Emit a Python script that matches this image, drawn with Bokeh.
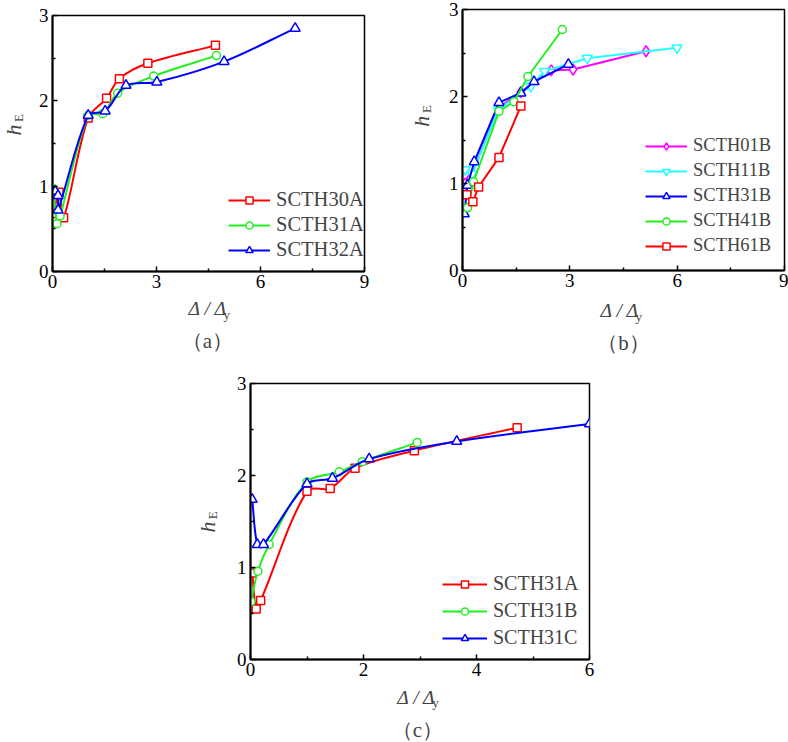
import numpy as np
from bokeh.plotting import figure
from bokeh.models import FixedTicker, Label, Legend, LegendItem, ColumnDataSource
from bokeh.layouts import row, column
from bokeh.embed import file_html
from bokeh.resources import INLINE

# ---- panel (a): SCTH30A / SCTH31A / SCTH32A ----
a30_x = [0.03, 0.19, 0.32, 1.03, 1.56, 1.93, 2.75, 4.70]
a30_y = [0.68, 0.93, 0.63, 1.80, 2.03, 2.26, 2.44, 2.65]
a31_x = [0.03, 0.13, 0.22, 1.03, 1.45, 1.88, 2.92, 4.73]
a31_y = [0.97, 0.56, 0.65, 1.83, 1.85, 2.09, 2.29, 2.53]
a32_x = [0.08, 0.16, 0.16, 1.03, 1.52, 2.12, 3.01, 4.95, 7.00]
a32_y = [0.94, 0.89, 0.72, 1.83, 1.88, 2.18, 2.22, 2.46, 2.85]

# ---- panel (b): SCTH01B ... SCTH61B ----
b01_x = [0.08, 0.22, 1.00, 1.63, 2.48, 3.09, 5.13]
b01_y = [1.00, 1.06, 1.87, 2.05, 2.30, 2.31, 2.52]
b11_x = [0.08, 0.27, 1.00, 1.91, 2.29, 3.49, 6.00]
b11_y = [1.16, 1.11, 1.85, 2.12, 2.29, 2.44, 2.56]
b31_x = [0.05, 0.14, 0.33, 1.02, 1.63, 2.00, 2.96]
b31_y = [0.65, 0.98, 1.25, 1.93, 2.04, 2.17, 2.37]
b41_x = [0.14, 0.31, 1.02, 1.44, 1.83, 2.79]
b41_y = [0.72, 1.02, 1.83, 1.94, 2.23, 2.77]
b61_x = [0.12, 0.29, 0.45, 1.02, 1.63]
b61_y = [0.87, 0.79, 0.96, 1.30, 1.89]

# ---- panel (c): SCTH31A / SCTH31B / SCTH31C ----
c31a_x = [0.03, 0.10, 0.18, 1.00, 1.41, 1.85, 2.90, 4.72]
c31a_y = [0.94, 0.55, 0.64, 1.83, 1.86, 2.08, 2.27, 2.52]
c31b_x = [0.01, 0.13, 0.33, 1.00, 1.57, 1.98, 2.95]
c31b_y = [0.63, 0.96, 1.25, 1.93, 2.04, 2.15, 2.36]
c31c_x = [0.03, 0.12, 0.23, 1.00, 1.45, 2.10, 3.65, 6.00]
c31c_y = [1.74, 1.25, 1.25, 1.91, 1.97, 2.18, 2.37, 2.56]

RED, GREEN, BLUE = "#FF0000", "#22EE22", "#0000FF"
MAGENTA, CYAN = "#FF00FF", "#22FFFF"
SERIF = "Liberation Serif"


def smooth_segments(xs, ys, sx, sy):
    """Chord-length Catmull-Rom curve through the points, as Bezier segments.
    sx, sy: pixels per data unit, so chords are measured on screen."""
    x = np.asarray(xs, float)
    y = np.asarray(ys, float)
    n = len(x)
    d = np.hypot(np.diff(x) * sx, np.diff(y) * sy)
    d = np.where(d < 1e-9, 1e-9, d)
    mx = np.empty(n)
    my = np.empty(n)
    mx[0], my[0] = (x[1] - x[0]) / d[0], (y[1] - y[0]) / d[0]
    mx[-1], my[-1] = (x[-1] - x[-2]) / d[-1], (y[-1] - y[-2]) / d[-1]
    for k in range(1, n - 1):
        mx[k] = (x[k + 1] - x[k - 1]) / (d[k - 1] + d[k])
        my[k] = (y[k + 1] - y[k - 1]) / (d[k - 1] + d[k])
    return dict(
        x0=x[:-1], y0=y[:-1], x1=x[1:], y1=y[1:],
        cx0=x[:-1] + mx[:-1] * d / 3.0, cy0=y[:-1] + my[:-1] * d / 3.0,
        cx1=x[1:] - mx[1:] * d / 3.0, cy1=y[1:] - my[1:] * d / 3.0,
    )


def make_panel(xmax, xticks, xminor, w, h, left, right, top, bottom):
    p = figure(width=w, height=h, x_range=(0, xmax), y_range=(0, 3),
               min_border_left=left, min_border_right=right,
               min_border_top=top, min_border_bottom=bottom,
               output_backend="svg", toolbar_location=None,
               background_fill_color="white", border_fill_color="white")
    p.grid.visible = False
    p.xaxis.ticker = FixedTicker(ticks=xticks, minor_ticks=xminor)
    p.yaxis.ticker = FixedTicker(ticks=[0, 1, 2, 3], minor_ticks=[0.5, 1.5, 2.5])
    for ax in (p.xaxis[0], p.yaxis[0]):
        ax.axis_line_width = 2
        ax.axis_line_color = "black"
        ax.major_tick_in = 5
        ax.major_tick_out = 0
        ax.minor_tick_in = 3
        ax.minor_tick_out = 0
        ax.major_tick_line_width = 1.5
        ax.minor_tick_line_width = 1.5
        ax.major_label_text_font = SERIF
        ax.major_label_text_font_size = "19px"
        ax.major_label_text_color = "black"
    p.xaxis.major_label_standoff = 3
    p.yaxis.major_label_standoff = 4
    p.outline_line_color = "black"
    p.outline_line_width = 1.5
    return p


def add_series(p, xs, ys, color, marker, size, scale=None):
    if scale is not None:
        src = ColumnDataSource(smooth_segments(xs, ys, *scale))
        r_line = p.bezier(source=src, x0="x0", y0="y0", x1="x1", y1="y1",
                          cx0="cx0", cy0="cy0", cx1="cx1", cy1="cy1",
                          line_color=color, line_width=2)
    else:
        r_line = p.line(xs, ys, line_color=color, line_width=2)
    r_pts = p.scatter(xs, ys, marker=marker, size=size, line_color=color,
                      line_width=1.5, fill_color="white")
    return [r_line, r_pts]


def add_legend(p, items, loc, glyph_w, spacing, font_size):
    leg = Legend(items=[LegendItem(label=t, renderers=r) for t, r in items],
                 location=loc, glyph_width=glyph_w, glyph_height=18,
                 label_height=18, spacing=spacing, padding=0, margin=0,
                 label_standoff=6, border_line_color=None,
                 background_fill_alpha=0,
                 label_text_font=SERIF, label_text_font_size=font_size)
    p.add_layout(leg)


def text_strip(w, h):
    """Blank canvas whose data units are its own pixels (y downwards)."""
    s = figure(width=w, height=h, x_range=(0, w), y_range=(h, 0),
               min_border=0, x_axis_location=None, y_axis_location=None,
               output_backend="svg", toolbar_location=None,
               background_fill_color="white", border_fill_color="white")
    s.outline_line_color = None
    s.grid.visible = False
    return s


def put(s, x, y, text, size, italic=False, angle=0.0, align="center"):
    s.add_layout(Label(x=x, y=y, text=text, text_font=SERIF,
                       text_font_style="italic" if italic else "normal",
                       text_font_size=size, angle=angle,
                       text_baseline="middle", text_align=align))


def x_title(s, x, yc):
    # x title: italic Delta / Delta followed by a subscript y
    put(s, x, yc, "Δ / Δ", "19.5px", italic=True, align="left")
    put(s, x + 35, yc + 5.7, "y", "13px", align="left")


def y_title(s, xc, yc, e_dx=5, e_dy=14):
    # y title: italic h with subscript E, read bottom to top
    put(s, xc, yc, "h", "22px", italic=True, angle=np.pi / 2)
    put(s, xc + e_dx, yc - e_dy, "E", "13px", angle=np.pi / 2)


# ---------- panel (a) ----------
pa = make_panel(9, [0, 3, 6, 9], [1.5, 4.5, 7.5], 368, 296, 26, 30, 15, 25)
sa = (312 / 9, 256 / 3)
ra = add_series(pa, a30_x, a30_y, RED, "square", 8, sa)
ga = add_series(pa, a31_x, a31_y, GREEN, "circle", 8, sa)
ba = add_series(pa, a32_x, a32_y, BLUE, "triangle", 10, sa)
add_legend(pa, [("SCTH30A", ra), ("SCTH31A", ga), ("SCTH32A", ba)],
           (176, 10), 42, 2, "20.5px")
ya = text_strip(26, 296)
y_title(ya, 12.5, 132.5)
xa = text_strip(394, 59)
x_title(xa, 188, 11.9)
put(xa, 207, 44.5, "（a）", "21px")

# ---------- panel (b) ----------
pb = make_panel(9, [0, 3, 6, 9], [1.5, 4.5, 7.5], 354, 298, 28, 4, 9, 28)
mb = add_series(pb, b01_x, b01_y, MAGENTA, "diamond", 11)
cb = add_series(pb, b11_x, b11_y, CYAN, "inverted_triangle", 10)
bb = add_series(pb, b31_x, b31_y, BLUE, "triangle", 10)
gb = add_series(pb, b41_x, b41_y, GREEN, "circle", 8)
rb = add_series(pb, b61_x, b61_y, RED, "square", 8)
add_legend(pb, [("SCTH01B", mb), ("SCTH11B", cb), ("SCTH31B", bb),
                ("SCTH41B", gb), ("SCTH61B", rb)],
           (183, 14), 42, 4, "18.5px")
yb = text_strip(40, 298)
y_title(yb, 27, 127.5)
xb = text_strip(394, 57)
x_title(xb, 206, 12)
put(xb, 229, 44.6, "（b）", "21px")

# ---------- panel (c) ----------
pc = make_panel(6, [0, 2, 4, 6], [1, 3, 5], 566, 330, 28, 199, 28, 26)
scl = (339 / 6, 276 / 3)
rc = add_series(pc, c31a_x, c31a_y, RED, "square", 8, scl)
gc = add_series(pc, c31b_x, c31b_y, GREEN, "circle", 8, scl)
bc = add_series(pc, c31c_x, c31c_y, BLUE, "triangle", 10, scl)
add_legend(pc, [("SCTH31A", rc), ("SCTH31B", gc), ("SCTH31C", bc)],
           (192, 10), 45, 4, "20px")
yc = text_strip(222, 330)
y_title(yc, 207, 171.7)
xc = text_strip(788, 57)
x_title(xc, 396.7, 11.7)
put(xc, 417, 44.3, "（c）", "21px")

page = column(
    row(column(row(ya, pa), xa), column(row(yb, pb), xb)),
    row(yc, pc),
    xc,
)
open("out.html", "w").write(file_html(page, INLINE))
